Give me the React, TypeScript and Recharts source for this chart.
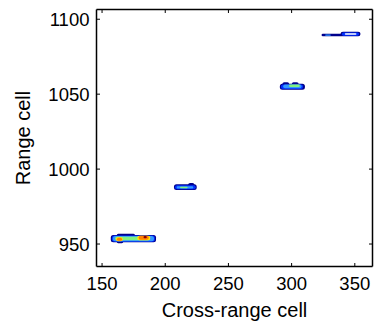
import { ScatterChart, XAxis, YAxis, ReferenceArea, Scatter } from "recharts";

const FONT = "'Liberation Sans', Arial, Helvetica, sans-serif";

const X_TICKS = [150, 200, 250, 300, 350];
const Y_TICKS = [950, 1000, 1050, 1100];
const X_DOMAIN = [145.6, 364];
const Y_DOMAIN = [935, 1106.5];

// jet-ish colour levels, 0 = empty interior
const LEVEL_COLORS = ["#ffffff", "#00008c", "#0030ff", "#3399ff", "#33ccff", "#80f080", "#ffe600", "#ff8000", "#8b0000"];

// patches: [x1, x2, y1, y2, level]  (cross-range cell, range cell)
const target1 = [
  [161.6, 176.1, 954.8, 956.9, 1],
  [156.9, 192.7, 951.2, 956.0, 1],
  [161.6, 166.8, 950.5, 952.5, 1],
  [157.8, 191.8, 951.5, 955.7, 2],
  [158.5, 191.1, 951.8, 955.4, 3],
  [160.3, 187.9, 952.5, 954.9, 5],
  [161.0, 166.5, 951.9, 954.5, 6],
  [161.8, 165.8, 952.1, 954.2, 7],
  [177.8, 188.2, 952.6, 955.6, 6],
  [178.9, 187.0, 952.9, 955.5, 7],
  [182.8, 185.4, 953.8, 955.3, 8],
];
const target2 = [
  [206.9, 224.9, 986.1, 989.9, 1],
  [218.2, 223.0, 988.5, 990.8, 1],
  [207.7, 224.1, 986.5, 989.2, 2],
  [209.0, 222.2, 987.0, 988.5, 3],
  [211.7, 217.7, 987.2, 988.3, 5],
];
const target3 = [
  [292.8, 298.0, 1055.8, 1058.0, 1],
  [300.2, 305.5, 1055.8, 1058.0, 1],
  [290.7, 310.5, 1052.9, 1056.9, 1],
  [291.5, 309.1, 1053.5, 1056.4, 2],
  [293.3, 307.9, 1054.0, 1056.4, 3],
  [298.0, 306.5, 1054.7, 1056.4, 5],
];
const target4 = [
  [323.7, 340.8, 1088.6, 1090.3, 1],
  [326.5, 331.0, 1089.0, 1089.9, 3],
  [338.7, 354.5, 1088.6, 1091.7, 1],
  [339.7, 353.4, 1089.0, 1091.2, 2],
  [342.1, 351.3, 1089.6, 1090.7, 0],
];
const targets = [target1, target2, target3, target4];

const centers = [
  { x: 175, y: 953.5 },
  { x: 216, y: 988 },
  { x: 300, y: 1055 },
  { x: 339, y: 1090 },
];

const Patch = (p: any) => (
  <rect
    x={p.x}
    y={p.y}
    width={p.width}
    height={p.height}
    fill={p.fill}
    rx={Math.min(p.height / 2, 2.5)}
  />
);

const BottomTick = ({ x, y, payload }: any) => (
  <g>
    <line x1={x} x2={x} y1={y} y2={y - 3.5} stroke="#000" />
    <text x={x} y={y + 23} textAnchor="middle" fontSize={18.5} fill="#000" fontFamily={FONT}>
      {payload.value}
    </text>
  </g>
);
const TopTick = ({ x, y }: any) => <line x1={x} x2={x} y1={y} y2={y + 3.5} stroke="#000" />;
const LeftTick = ({ x, y, payload }: any) => (
  <g>
    <line x1={x} x2={x + 3.5} y1={y} y2={y} stroke="#000" />
    <text x={x - 7} y={y + 6.6} textAnchor="end" fontSize={18.5} fill="#000" fontFamily={FONT}>
      {payload.value}
    </text>
  </g>
);
const RightTick = ({ x, y }: any) => <line x1={x} x2={x - 3.5} y1={y} y2={y} stroke="#000" />;

const xTitle = ({ viewBox }: any) => (
  <text x={viewBox.x + viewBox.width / 2} y={viewBox.y + 50.5} textAnchor="middle" fontSize={20} fill="#000" fontFamily={FONT}>
    Cross-range cell
  </text>
);
const yTitle = ({ viewBox }: any) => {
  const cx = 30;
  const cy = viewBox.y + viewBox.height / 2;
  return (
    <text x={cx} y={cy} transform={`rotate(-90 ${cx} ${cy})`} textAnchor="middle" fontSize={20} fill="#000" fontFamily={FONT}>
      Range cell
    </text>
  );
};

const axisLine = { stroke: "#000", strokeWidth: 1.5 };

export default function App() {
  return (
    <div style={{ position: "absolute", left: 0, top: 0, background: "#fff" }}>
      <ScatterChart width={374} height={328} margin={{ top: 8.5, right: 0.5, bottom: 31.5, left: 36.5 }}>
        <XAxis
          xAxisId="b" dataKey="x" type="number" domain={X_DOMAIN} ticks={X_TICKS} allowDataOverflow
          height={30} tickSize={0} tickMargin={0} tickLine={false} axisLine={axisLine}
          tick={<BottomTick />} interval={0} label={xTitle}
        />
        <XAxis
          xAxisId="t" dataKey="x" orientation="top" type="number" domain={X_DOMAIN} ticks={X_TICKS} allowDataOverflow
          height={1} tickSize={0} tickMargin={0} tickLine={false} axisLine={axisLine}
          tick={<TopTick />} interval={0}
        />
        <YAxis
          yAxisId="l" dataKey="y" type="number" domain={Y_DOMAIN} ticks={Y_TICKS} allowDataOverflow
          width={60} tickSize={0} tickMargin={0} tickLine={false} axisLine={axisLine}
          tick={<LeftTick />} interval={0} label={yTitle}
        />
        <YAxis
          yAxisId="r" dataKey="y" orientation="right" type="number" domain={Y_DOMAIN} ticks={Y_TICKS} allowDataOverflow
          width={1} tickSize={0} tickMargin={0} tickLine={false} axisLine={axisLine}
          tick={<RightTick />} interval={0}
        />
        {targets.map((t, ti) =>
          t.map((p, i) => (
            <ReferenceArea
              key={`${ti}-${i}`}
              xAxisId="b"
              yAxisId="l"
              x1={p[0]}
              x2={p[1]}
              y1={p[2]}
              y2={p[3]}
              fill={LEVEL_COLORS[p[4]]}
              fillOpacity={1}
              stroke="none"
              shape={Patch}
            />
          ))
        )}
        <Scatter
          xAxisId="b" yAxisId="l" data={centers}
          isAnimationActive={false} shape={() => <g />}
        />
        <Scatter
          xAxisId="t" yAxisId="r" data={centers}
          isAnimationActive={false} shape={() => <g />}
        />
      </ScatterChart>
    </div>
  );
}
